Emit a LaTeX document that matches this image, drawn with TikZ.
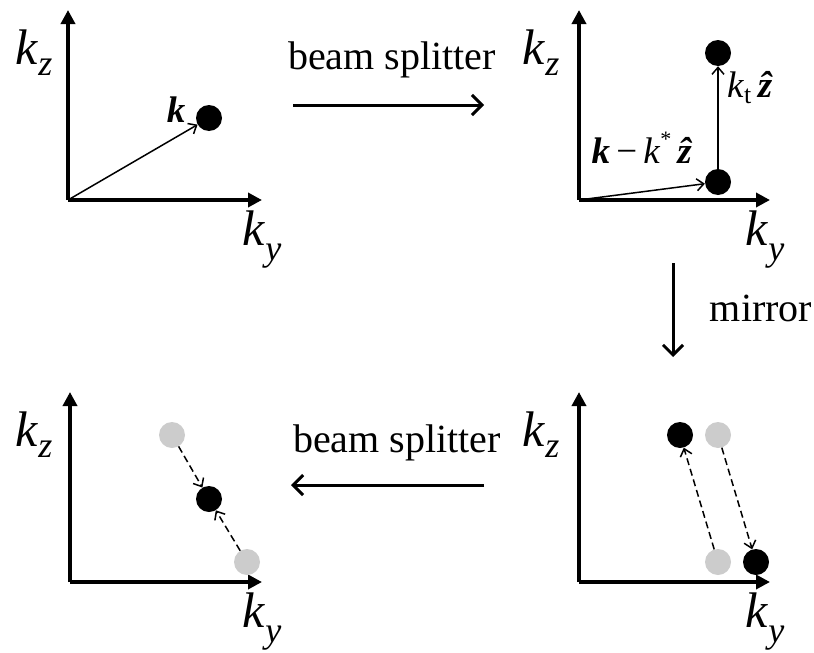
\documentclass[tikz,border=0pt]{standalone}
\usepackage{fontspec}
\setmainfont{Liberation Serif}
\usetikzlibrary{arrows.meta}
\newcommand{\kzlab}{{\fontsize{50}{50}\selectfont\textit{k}\raisebox{-0.22em}{\fontsize{36}{36}\selectfont\textit{z}}}}
\newcommand{\kylab}{{\fontsize{50}{50}\selectfont\textit{k}\raisebox{-0.3em}{\fontsize{36}{36}\selectfont\textit{y}}}}
\newcommand{\zhat}{\textbf{\textit{\^z}}}
\begin{document}
\begin{tikzpicture}[x=1pt,y=-1pt,
  axis/.style={line width=4pt,-{Triangle[length=14pt,width=14pt]}},
  vec/.style={line width=1.5pt,-{Straight Barb[length=7pt,width=12pt]}},
  dvec/.style={vec,dash pattern=on 7pt off 4pt},
  proc/.style={line width=3pt,-{Straight Barb[length=10pt,width=20pt]}},
  blackdot/.style={circle,fill=black,minimum size=26pt,inner sep=0pt},
  graydot/.style={circle,fill=lightdot,minimum size=26pt,inner sep=0pt},
  lab/.style={inner sep=0pt,font=\fontsize{40}{42}\selectfont},
  vlab/.style={inner sep=0pt,font=\fontsize{37}{40}\selectfont},
  axl/.style={inner sep=0pt}
]
\definecolor{lightdot}{HTML}{CCCCCC}
\useasboundingbox (0,0) rectangle (814,653);

% ---------- panel 1 (top-left)
\coordinate (o1) at (68,200);
\coordinate (y1) at (68,10);
\coordinate (x1) at (262,200);
\draw[axis] (o1) -- (y1);
\draw[axis] (o1) -- (x1);
\node[axl] (kz1) at (34,53) {\kzlab};
\node[axl] (ky1) at (262,240) {\kylab};
\node[blackdot] (d1) at (209,118) {};
\draw[vec] (o1) -- (d1);
\node[vlab] (k1) at (176,110) {\textbf{\textit{k}}};

% ---------- panel 2 (top-right)
\coordinate (o2) at (579,200);
\coordinate (y2) at (579,10);
\coordinate (x2) at (770,200);
\draw[axis] (o2) -- (y2);
\draw[axis] (o2) -- (x2);
\node[axl] (kz2) at (541,53) {\kzlab};
\node[axl] (ky2) at (765,240) {\kylab};
\node[blackdot] (d2a) at (718,182) {};
\node[blackdot] (d2b) at (718,53) {};
\draw[vec] (o2) -- (d2a);
\draw[vec] (d2a) -- (d2b);
\node[vlab] (l2a) at (642,148) {\textbf{\textit{k}}\,−\,\textit{k}\raisebox{0.45em}{\fontsize{22}{22}\selectfont*}\,\zhat};
\node[vlab] (l2b) at (750,88) {\textit{k}\textsubscript{t}\,\zhat};

% ---------- panel 3 (bottom-right)
\coordinate (o3) at (579,582);
\coordinate (y3) at (579,392);
\coordinate (x3) at (770,582);
\draw[axis] (o3) -- (y3);
\draw[axis] (o3) -- (x3);
\node[axl] (kz3) at (541,435) {\kzlab};
\node[axl] (ky3) at (765,622) {\kylab};
\node[blackdot] (d3a) at (680,435) {};
\node[graydot]  (g3a) at (718,435) {};
\node[graydot]  (g3b) at (718,562) {};
\node[blackdot] (d3b) at (756,562) {};
\draw[dvec] (g3b) -- (d3a);
\draw[dvec] (g3a) -- (d3b);

% ---------- panel 4 (bottom-left)
\coordinate (o4) at (70,582);
\coordinate (y4) at (70,392);
\coordinate (x4) at (262,582);
\draw[axis] (o4) -- (y4);
\draw[axis] (o4) -- (x4);
\node[axl] (kz4) at (34,435) {\kzlab};
\node[axl] (ky4) at (262,622) {\kylab};
\node[graydot]  (g4a) at (172,435) {};
\node[blackdot] (d4)  at (209,499) {};
\node[graydot]  (g4b) at (247,562) {};
\draw[dvec] (g4a) -- (d4);
\draw[dvec] (g4b) -- (d4);

% ---------- process arrows
\coordinate (p1s) at (293,105);
\coordinate (p1e) at (484,105);
\draw[proc] (p1s) -- (p1e);
\node[lab] (bs1) at (392,60) {beam splitter};

\coordinate (p2s) at (673,263);
\coordinate (p2e) at (673,357);
\draw[proc] (p2s) -- (p2e);
\node[lab] (mir) at (761,308) {mirror};

\coordinate (p3s) at (484,485);
\coordinate (p3e) at (291,485);
\draw[proc] (p3s) -- (p3e);
\node[lab] (bs2) at (397,443) {beam splitter};
\end{tikzpicture}
\end{document}
